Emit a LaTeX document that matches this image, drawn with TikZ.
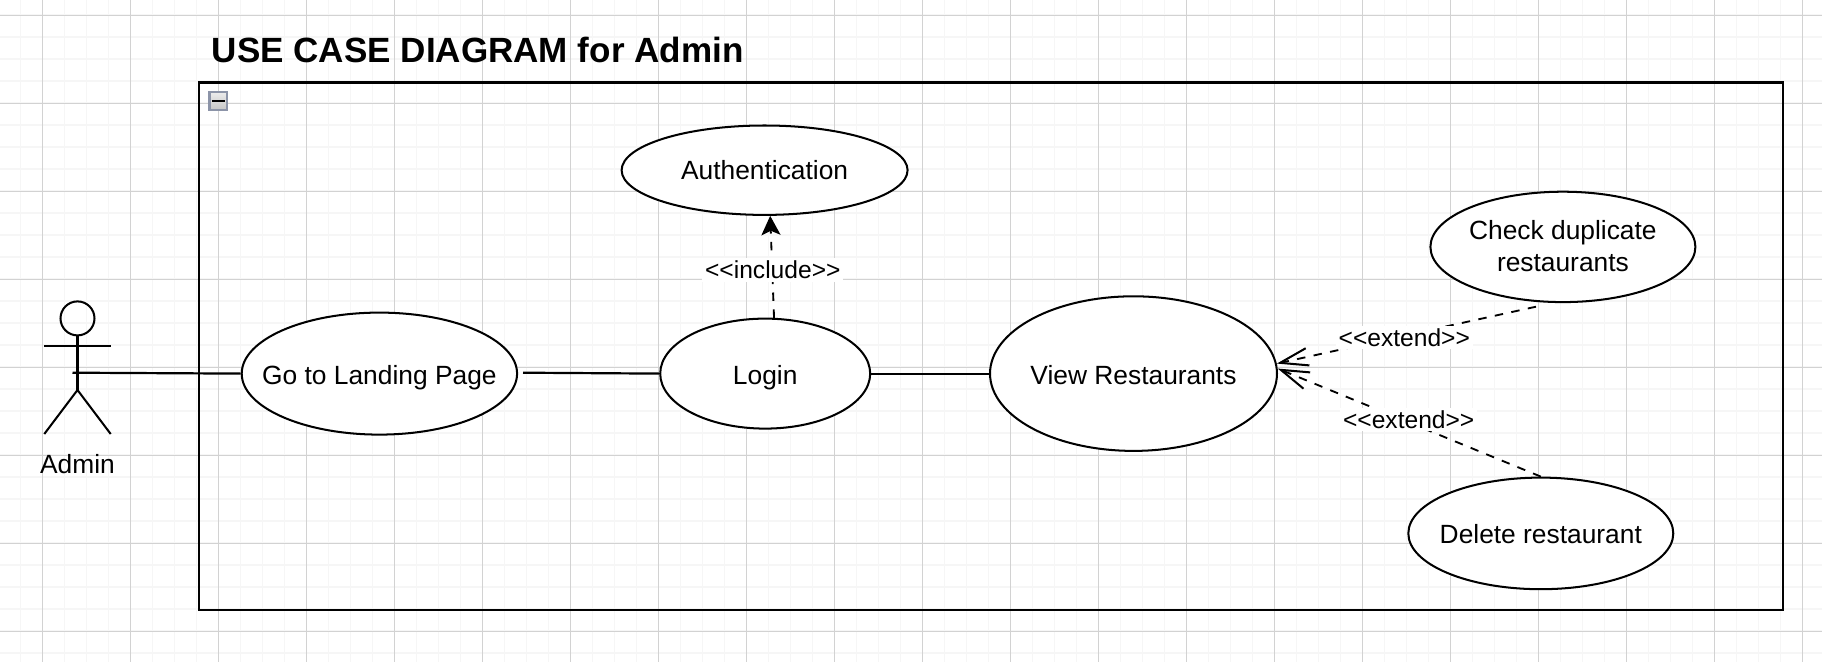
\documentclass[tikz,border=0pt]{standalone}
\usepackage{fontspec}
\setmainfont{Liberation Sans}
\usetikzlibrary{shapes.geometric,arrows.meta}
\definecolor{gridmajor}{HTML}{D2D2D2}
\definecolor{gridminor}{HTML}{F6F6F6}
\definecolor{btnborder}{HTML}{8C94A8}
\tikzstyle{usecase}=[ellipse,draw=black,line width=1.15pt,fill=white,inner sep=-20pt,align=center,text depth=0pt,text height=12.5pt,font=\fontsize{15}{18.2}\selectfont]
\tikzstyle{assoc}=[draw=black,line width=1.25pt]
\tikzstyle{limb}=[draw=black,line width=1.15pt]
\tikzstyle{dep}=[draw=black,line width=1.05pt,dash pattern=on 4.8pt off 4.8pt]
\tikzstyle{stereo}=[fill=white,inner sep=1.5pt,font=\fontsize{14}{16}\selectfont]
\tikzstyle{barb}=[-{Straight Barb[length=16pt,width=10pt,line width=1.15pt]}]
\begin{document}
\begin{tikzpicture}[x=0.02cm,y=-0.02cm]
\useasboundingbox (0,0) rectangle (1822,662);
% grid
\foreach \i in {0,...,83} {
  \draw[gridminor,line width=1.1pt] ({-1.5+22*\i},0) -- ({-1.5+22*\i},662);
}
\foreach \i in {0,...,30} {
  \draw[gridminor,line width=1.1pt] (0,{15.3+22*\i}) -- (1822,{15.3+22*\i});
}
\foreach \i in {0,...,20} {
  \draw[gridmajor,line width=0.7pt] ({42.5+88*\i},0) -- ({42.5+88*\i},662);
}
\foreach \i in {0,...,7} {
  \draw[gridmajor,line width=0.7pt] (0,{15.3+88*\i}) -- (1822,{15.3+88*\i});
}

% frame
\draw[black,line width=1.15pt] (198.7,82.5) rectangle (1782.5,610);
\node (title) at (211.5,62.5) [anchor=base west,inner sep=0pt,font=\fontsize{19.95}{24}\selectfont\bfseries] {USE CASE DIAGRAM for Admin};
\node (btn) at (218.3,101) [rectangle,draw=btnborder,line width=1.3pt,minimum width=10pt,minimum height=10pt,inner sep=0pt,top color=gray!15,bottom color=gray!45] {};
\draw[black,line width=1.3pt] ([xshift=-3.6pt]btn.center) -- ([xshift=3.6pt]btn.center);

% use cases
\node (auth) at (764.6,170.2) [usecase,text height=11pt,minimum width=286*0.5691pt,minimum height=89.4*0.5691pt] {Authentication};
\node (landing) at (379.4,373.6) [usecase,minimum width=275.4*0.5691pt,minimum height=122*0.5691pt] {Go to Landing Page};
\node (login) at (765.2,373.6) [usecase,minimum width=210*0.5691pt,minimum height=110*0.5691pt] {Login};
\node (view) at (1133.5,373.6) [usecase,minimum width=287*0.5691pt,minimum height=154.6*0.5691pt] {View Restaurants};
\node (check) at (1562.9,246.9) [usecase,text height=28.5pt,minimum width=265*0.5691pt,minimum height=110.4*0.5691pt] {Check duplicate\\restaurants};
\node (delete) at (1540.8,533.4) [usecase,text height=11.5pt,minimum width=265*0.5691pt,minimum height=111.6*0.5691pt] {Delete restaurant};

% actor
\node (head) at (77.5,318.4) [circle,draw=black,line width=1.15pt,minimum size=34*0.5691pt,inner sep=0pt] {};
\coordinate (hip) at (77.5,390);
\coordinate (armleft) at (44.3,346);
\coordinate (armright) at (110.7,346);
\coordinate (footleft) at (44.3,434);
\coordinate (footright) at (110.7,434);
\coordinate (hand) at (72.5,372.7);
\coordinate (landingout) at (523,372.7);
\coordinate (checkout) at (1536,306.7);
\draw[limb] (head.south) -- (hip);
\draw[limb] (armleft) -- (armright);
\draw[limb] (footleft) -- (hip) -- (footright);
\node (admin) at (77.5,464) [inner sep=0pt,font=\fontsize{15}{17.7}\selectfont] {Admin};

\draw[assoc] (hand) -- (landing.west);
\draw[assoc] (landingout) -- (login.west);
\draw[assoc] (login.east) -- (view.west);

\draw[dep,-{Stealth[length=11pt,width=11pt,inset=2.5pt,line width=0pt]}] (login.81) -- (auth.277);
\draw[dep,barb] (checkout) -- (view.4);
\draw[dep,barb] (delete.north) -- (view.2);

\node (include) at (772.8,270) [stereo] {<{}<include>{}>};
\node (extendup) at (1404.3,337.3) [stereo] {<{}<extend>{}>};
\node (extenddown) at (1408.7,419.3) [stereo] {<{}<extend>{}>};
\end{tikzpicture}
\end{document}
